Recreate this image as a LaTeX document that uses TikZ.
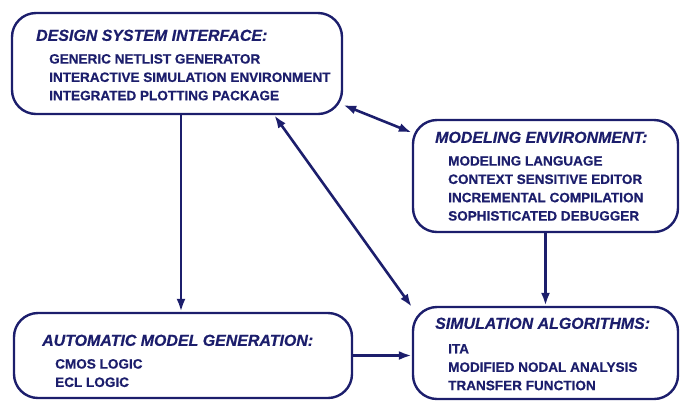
\documentclass[tikz,border=0pt]{standalone}
\usepackage{fontspec}
\setmainfont{Liberation Sans}[BoldFeatures={FakeBold=0.6},BoldItalicFeatures={FakeBold=0.6}]
\usepackage{tikz}
\usetikzlibrary{arrows.meta}

\definecolor{navy}{RGB}{28,30,108}
\tikzset{
  panel/.style={draw=navy, line width=2.4bp, rounded corners=24bp, inner sep=0pt},
  panelText/.style={anchor=north west, inner sep=0pt, align=left, text=navy,
    font=\fontsize{13.6}{18.4}\selectfont\bfseries},
  link/.style={draw=navy, line width=2.6bp},
  >={Latex[length=13bp,width=9bp]}
}
\newcommand{\heading}[1]{{\fontsize{16}{18.4}\selectfont\itshape #1}}
\newcommand{\itm}{\hspace*{13bp}}

\begin{document}
\begin{tikzpicture}[x=1bp,y=-1bp]
  \useasboundingbox (0,0) rectangle (680,400);
  \node [panel, minimum width=330bp, minimum height=101bp] (dsi) at (177,63.5) {};
  \node [panel, minimum width=265bp, minimum height=112bp] (me) at (545.5,176) {};
  \node [panel, minimum width=338bp, minimum height=85bp] (amg) at (183,355.5) {};
  \node [panel, minimum width=265bp, minimum height=92bp] (sa) at (545.5,353) {};
  \node [panelText] (dsiText) at (36,29.5) {\heading{DESIGN SYSTEM INTERFACE:}\\[4.4bp]
    \itm GENERIC NETLIST GENERATOR\\
    \itm INTERACTIVE SIMULATION ENVIRONMENT\\
    \itm INTEGRATED PLOTTING PACKAGE};
  \node [panelText] (meText) at (435,131.5) {\heading{MODELING ENVIRONMENT:}\\[4.4bp]
    \itm MODELING LANGUAGE\\
    \itm CONTEXT SENSITIVE EDITOR\\
    \itm INCREMENTAL COMPILATION\\
    \itm SOPHISTICATED DEBUGGER};
  \node [panelText] (amgText) at (42,334.5) {\heading{AUTOMATIC MODEL GENERATION:}\\[4.4bp]
    \itm CMOS LOGIC\\
    \itm ECL LOGIC};
  \node [panelText] (saText) at (435,317.5) {\heading{SIMULATION ALGORITHMS:}\\[6.3bp]
    \itm ITA\\
    \itm MODIFIED NODAL ANALYSIS\\
    \itm TRANSFER FUNCTION};
  \draw [link, ->] ([xshift=-2bp]amg.north |- dsi.south) -- ([xshift=-2bp]amg.north);
  \draw [link, <->] (dsi.-14) -- (me.162);
  \draw [link, <->] (dsi.-28) -- (sa.161);
  \draw [link, ->] (me.south) -- (sa.north);
  \draw [link, ->] (amg.east) -- (amg.east -| sa.west);
\end{tikzpicture}
\end{document}
